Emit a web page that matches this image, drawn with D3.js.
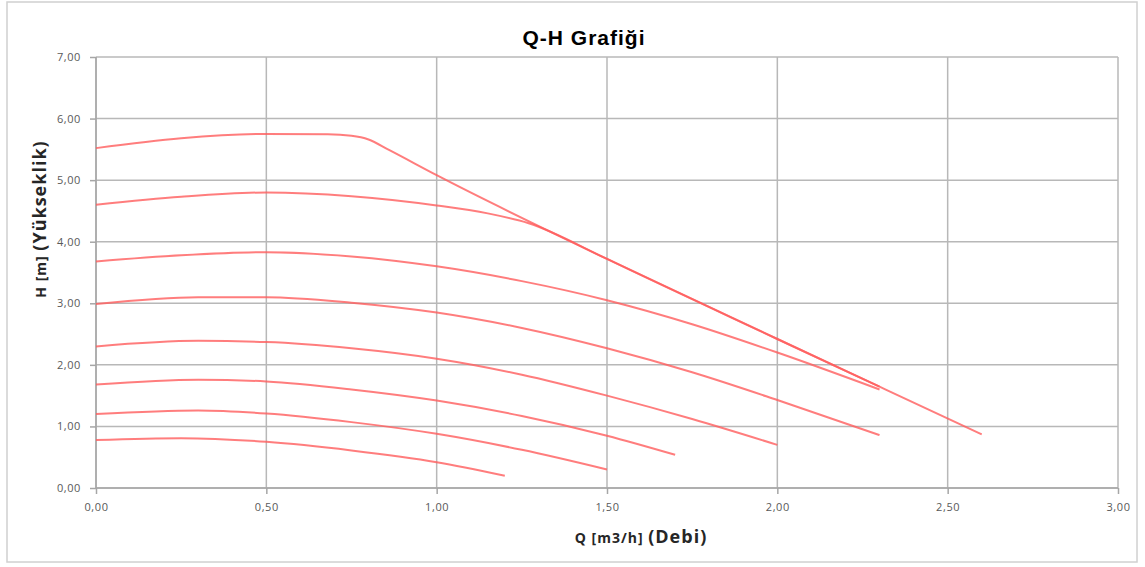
<!DOCTYPE html>
<html>
<head>
<meta charset="utf-8">
<script src="https://cdn.jsdelivr.net/npm/d3@7"></script>
<style>
  body { margin: 0; background: #fff; }
  .tick text { font-family: "Open Sans", sans-serif; font-size: 11px; letter-spacing: 0.6px; fill: #595959; }
  .title { font-family: "Liberation Sans", Arial, sans-serif; font-weight: bold; font-size: 21px; letter-spacing: 1px; }
  .axis-label { font-family: "Open Sans", sans-serif; font-weight: bold; fill: #262626; letter-spacing: 1px; }
</style>
</head>
<body>
<div id="QHChart"></div>
<script>
var width = 1145
var height = 567

// Q-H curves, [Q m3/h, H m]
const curve1 = [[0, 0.78], [0.25, 0.81], [0.5, 0.75], [0.75, 0.61], [1.0, 0.42], [1.2, 0.2]];
const curve2 = [[0, 1.2], [0.3, 1.26], [0.5, 1.21], [0.75, 1.07], [1.0, 0.88], [1.25, 0.62], [1.5, 0.3]];
const curve3 = [[0, 1.68], [0.3, 1.76], [0.5, 1.73], [0.75, 1.6], [1.0, 1.42], [1.25, 1.17], [1.5, 0.85], [1.7, 0.54]];
const curve4 = [[0, 2.3], [0.3, 2.39], [0.5, 2.37], [0.75, 2.27], [1.0, 2.1], [1.25, 1.84], [1.5, 1.5], [1.75, 1.12], [2.0, 0.7]];
const curve5 = [[0, 2.99], [0.3, 3.1], [0.5, 3.1], [0.75, 3.01], [1.0, 2.85], [1.25, 2.6], [1.5, 2.27], [1.75, 1.88], [2.0, 1.43], [2.3, 0.86]];
const curve6 = [[0, 3.68], [0.25, 3.78], [0.5, 3.83], [0.75, 3.76], [1.0, 3.6], [1.25, 3.36], [1.5, 3.05], [1.75, 2.66], [2.0, 2.2], [2.3, 1.6]];
const curve7 = [[0, 4.6], [0.25, 4.73], [0.5, 4.8], [0.75, 4.74], [1.0, 4.59], [1.15, 4.46], [1.27, 4.3], [1.5, 3.72], [2.0, 2.42], [2.3, 1.645]];
const curve8 = [[0, 5.52], [0.25, 5.68], [0.5, 5.75], [0.68, 5.745], [0.75, 5.72], [0.8, 5.66], [0.86, 5.49], [1.0, 5.08], [1.5, 3.72], [2.0, 2.42], [2.3, 1.645], [2.6, 0.87]];
const curves = [curve1, curve2, curve3, curve4, curve5, curve6, curve7, curve8];

const xTicks = [0, 0.5, 1.0, 1.5, 2.0, 2.5, 3.0];
const yTicks = [0, 1, 2, 3, 4, 5, 6, 7];

const title = "Q-H Grafiği";

var svg = d3.select("#QHChart").append("svg")
    .attr("width", width)
    .attr("height", height)

// chart frame
svg.append("rect")
    .attr("x", 7).attr("y", 2)
    .attr("width", 1130).attr("height", 560)
    .attr("fill", "#fff")
    .attr("stroke", "#d0d0d0")
    .attr("stroke-width", 1.5)

const margin = {top: 57, right: 27, bottom: 79, left: 96}
const innerWidth = width - margin.left - margin.right;
const innerHeight = height - margin.top - margin.bottom;

const xScale = d3.scaleLinear().domain([0, 3]).range([0, innerWidth]);
const yScale = d3.scaleLinear().domain([0, 7]).range([innerHeight, 0]);

const fmt = d => d3.format(".2f")(d).replace(".", ",");

const g = svg.append("g")
    .attr("transform", `translate(${margin.left}, ${margin.top})`)

// grid lines
g.append("g").selectAll("line").data(yTicks).join("line")
    .attr("x1", 0).attr("x2", innerWidth)
    .attr("y1", d => yScale(d)).attr("y2", d => yScale(d))
    .attr("stroke", "#b8b8b8").attr("stroke-width", 1.5)
g.append("g").selectAll("line").data(xTicks).join("line")
    .attr("x1", d => xScale(d)).attr("x2", d => xScale(d))
    .attr("y1", 0).attr("y2", innerHeight)
    .attr("stroke", "#b8b8b8").attr("stroke-width", 1.5)

const xAxis = d3.axisBottom(xScale).tickValues(xTicks).tickFormat(fmt).tickSize(6).tickPadding(9);
const yAxis = d3.axisLeft(yScale).tickValues(yTicks).tickFormat(fmt).tickSize(6).tickPadding(9);

const xAxisG = g.append("g").attr("transform", `translate(0, ${innerHeight})`).call(xAxis);
const yAxisG = g.append("g").call(yAxis);
xAxisG.selectAll("line, path").attr("stroke", "#a6a6a6").attr("stroke-width", 1.5);
yAxisG.selectAll("line, path").attr("stroke", "#a6a6a6").attr("stroke-width", 1.5);
xAxisG.select(".domain").attr("d", `M0,0H${innerWidth}`);
yAxisG.select(".domain").attr("d", `M0,0V${innerHeight}`);

// curves
const lineGenerator = d3.line()
    .x(d => xScale(d[0]))
    .y(d => yScale(d[1]))
    .curve(d3.curveMonotoneX);

g.append("g").selectAll("path").data(curves).join("path")
    .attr("d", lineGenerator)
    .attr("fill", "none")
    .attr("stroke", "#ff5c5c")
    .attr("stroke-opacity", 0.8)
    .attr("stroke-width", 2)

svg.append("text")
    .attr("class", "title")
    .attr("x", 584)
    .attr("y", 45)
    .attr("text-anchor", "middle")
    .text(title)

const xLabel = svg.append("text")
    .attr("class", "axis-label")
    .attr("x", 641)
    .attr("y", 543)
    .attr("text-anchor", "middle")
xLabel.append("tspan").attr("font-size", 14).text("Q [m3/h] ")
xLabel.append("tspan").attr("font-size", 18).text("(Debi)")

const yLabel = svg.append("text")
    .attr("class", "axis-label")
    .attr("transform", "translate(46, 219) rotate(-90)")
    .attr("text-anchor", "middle")
yLabel.append("tspan").attr("font-size", 14).text("H [m] ")
yLabel.append("tspan").attr("font-size", 18).text("(Yükseklik)")
</script>
</body>
</html>
